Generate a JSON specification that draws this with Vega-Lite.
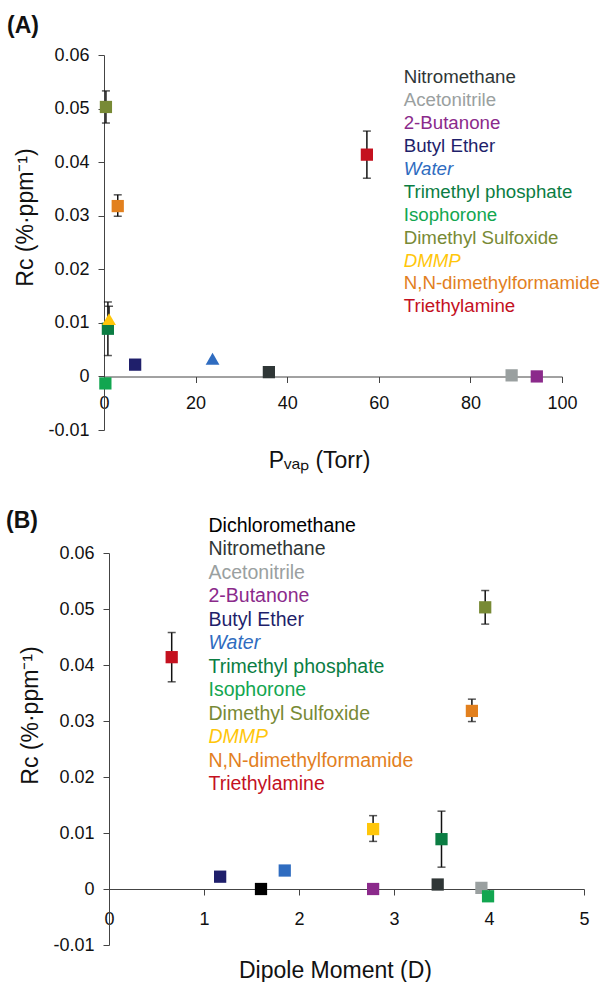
{
  "$schema": "https://vega.github.io/schema/vega-lite/v6.json",
  "padding": {"left": 5, "top": 15, "right": 0, "bottom": 0},
  "background": "white",
  "config": {
    "view": {"stroke": null},
    "font": "Liberation Sans",
    "axis": {"labelFont": "Liberation Sans", "labelFontSize": 18, "labelColor": "#111", "titleFont": "Liberation Sans", "titleFontSize": 23, "titleFontWeight": "normal", "titleColor": "#111", "domainColor": "#444", "tickColor": "#444", "tickSize": 6, "grid": false, "labelPadding": 9, "labelFlush": false, "labelOverlap": false},
    "title": {"font": "Liberation Sans", "fontSize": 23, "fontWeight": "bold", "anchor": "start", "color": "#111", "frame": "bounds"},
    "legend": {"labelFont": "Liberation Sans", "labelFontSize": 19, "labelLimit": 400, "symbolSize": 0, "symbolOpacity": 0, "symbolStrokeWidth": 0, "labelOffset": 0, "padding": 0, "title": null}
  },
  "data": {"values": [
    {"name": "Dichloromethane", "pvap": null, "dipole": 1.60, "rc": 0.0000, "lo": null, "hi": null},
    {"name": "Nitromethane", "pvap": 36.0, "dipole": 3.46, "rc": 0.0008, "lo": null, "hi": null},
    {"name": "Acetonitrile", "pvap": 89.0, "dipole": 3.92, "rc": 0.0002, "lo": null, "hi": null},
    {"name": "2-Butanone", "pvap": 94.5, "dipole": 2.78, "rc": 0.0000, "lo": null, "hi": null},
    {"name": "Butyl Ether", "pvap": 6.8, "dipole": 1.17, "rc": 0.0022, "lo": null, "hi": null},
    {"name": "Water", "pvap": 23.7, "dipole": 1.85, "rc": 0.0033, "lo": null, "hi": null},
    {"name": "Trimethyl phosphate", "pvap": 0.85, "dipole": 3.50, "rc": 0.0089, "lo": 0.0039, "hi": 0.0139},
    {"name": "Isophorone", "pvap": 0.3, "dipole": 3.99, "rc": -0.0013, "lo": null, "hi": null},
    {"name": "Dimethyl Sulfoxide", "pvap": 0.42, "dipole": 3.96, "rc": 0.0503, "lo": 0.0473, "hi": 0.0533},
    {"name": "DMMP", "pvap": 1.1, "dipole": 2.78, "rc": 0.0107, "lo": 0.0085, "hi": 0.0131},
    {"name": "N,N-dimethylformamide", "pvap": 3.0, "dipole": 3.82, "rc": 0.0318, "lo": 0.0299, "hi": 0.0339},
    {"name": "Triethylamine", "pvap": 57.4, "dipole": 0.66, "rc": 0.0414, "lo": 0.0370, "hi": 0.0458}
  ]},
  "resolve": {"legend": {"color": "independent"}},
  "columns": 1,
  "align": "none",
  "spacing": 37,
  "concat": [
    {
      "width": 458,
      "height": 375,
      "title": {"text": "(A)", "dx": -8, "offset": 8},
      "transform": [{"filter": "isValid(datum.pvap)"}],
      "layer": [
        {
          "transform": [{"filter": "isValid(datum.lo)"}],
          "mark": {"type": "errorbar", "ticks": true, "size": 8, "thickness": 1.5, "color": "#111"},
          "encoding": {
            "x": {"field": "pvap", "type": "quantitative", "scale": {"domain": [0, 100], "nice": false}, "axis": {"title": "Pᵥₐₚ (Torr)", "values": [0, 20, 40, 60, 80, 100], "offset": -53.5, "labelPadding": 12, "titlePadding": 37, "titleX": 215}},
            "y": {"field": "lo", "type": "quantitative", "scale": {"domain": [-0.01, 0.06], "nice": false}, "axis": {"title": "Rᴄ (%·ppm⁻¹)", "values": [-0.01, 0, 0.01, 0.02, 0.03, 0.04, 0.05, 0.06], "labelExpr": "datum.value === 0 ? '0' : replace(format(datum.value, '.2f'), '\u2212', '-')", "titlePadding": 10, "titleY": 162}},
            "y2": {"field": "hi"}
          }
        },
        {
          "mark": {"type": "point", "filled": true, "opacity": 1, "strokeWidth": 0},
          "encoding": {
            "x": {"field": "pvap", "type": "quantitative", "scale": {"domain": [0, 100], "nice": false}, "axis": {"title": "Pᵥₐₚ (Torr)", "values": [0, 20, 40, 60, 80, 100], "offset": -53.5, "labelPadding": 12, "titlePadding": 37, "titleX": 215}},
            "y": {"field": "rc", "type": "quantitative", "scale": {"domain": [-0.01, 0.06], "nice": false}, "axis": {"title": "Rᴄ (%·ppm⁻¹)", "values": [-0.01, 0, 0.01, 0.02, 0.03, 0.04, 0.05, 0.06], "labelExpr": "datum.value === 0 ? '0' : replace(format(datum.value, '.2f'), '\u2212', '-')", "titlePadding": 10, "titleY": 162}},
            "shape": {"condition": {"test": "datum.name === 'Water' || datum.name === 'DMMP'", "value": "triangle-up"}, "value": "square"},
            "size": {"condition": {"test": "datum.name === 'Water' || datum.name === 'DMMP'", "value": 190}, "value": 150},
            "color": {
              "field": "name", "type": "nominal",
              "scale": {
                "domain": ["Dichloromethane", "Nitromethane", "Acetonitrile", "2-Butanone", "Butyl Ether", "Water", "Trimethyl phosphate", "Isophorone", "Dimethyl Sulfoxide", "DMMP", "N,N-dimethylformamide", "Triethylamine"],
                "range": ["#000000", "#2f3636", "#9aa0a0", "#8b2a8b", "#1f1f6b", "#2f6cc0", "#0b7d43", "#12a650", "#788a35", "#ffc60a", "#e2801e", "#c4111f"]
              },
              "legend": {
                "orient": "none", "legendX": 281, "legendY": 13, "rowPadding": 2.9,
                "labelFontSize": 18.7,
                "values": ["Nitromethane", "Acetonitrile", "2-Butanone", "Butyl Ether", "Water", "Trimethyl phosphate", "Isophorone", "Dimethyl Sulfoxide", "DMMP", "N,N-dimethylformamide", "Triethylamine"],
                "encode": {"labels": {"update": {"fill": {"signal": "scale('color', datum.value)"}, "fontStyle": {"signal": "datum.value === 'Water' || datum.value === 'DMMP' ? 'italic' : 'normal'"}}}}
              }
            }
          }
        }
      ]
    },
    {
      "width": 480,
      "height": 392,
      "title": {"text": "(B)", "dx": -14, "offset": -17},
      "layer": [
        {
          "transform": [{"filter": "isValid(datum.lo)"}],
          "mark": {"type": "errorbar", "ticks": true, "size": 8, "thickness": 1.5, "color": "#111"},
          "encoding": {
            "x": {"field": "dipole", "type": "quantitative", "scale": {"domain": [0, 5], "nice": false, "range": [5, 480]}, "axis": {"title": "Dipole Moment (D)", "values": [0, 1, 2, 3, 4, 5], "offset": -56, "labelPadding": 15, "titlePadding": 31, "titleX": 231}},
            "y": {"field": "lo", "type": "quantitative", "scale": {"domain": [-0.01, 0.06], "nice": false}, "axis": {"title": "Rᴄ (%·ppm⁻¹)", "values": [-0.01, 0, 0.01, 0.02, 0.03, 0.04, 0.05, 0.06], "labelExpr": "datum.value === 0 ? '0' : replace(format(datum.value, '.2f'), '\u2212', '-')", "titlePadding": 10, "labelPadding": 9, "offset": -5, "titleY": 162}},
            "y2": {"field": "hi"}
          }
        },
        {
          "mark": {"type": "point", "filled": true, "size": 150, "opacity": 1, "strokeWidth": 0, "shape": "square"},
          "encoding": {
            "x": {"field": "dipole", "type": "quantitative", "scale": {"domain": [0, 5], "nice": false, "range": [5, 480]}, "axis": {"title": "Dipole Moment (D)", "values": [0, 1, 2, 3, 4, 5], "offset": -56, "labelPadding": 15, "titlePadding": 31, "titleX": 231}},
            "y": {"field": "rc", "type": "quantitative", "scale": {"domain": [-0.01, 0.06], "nice": false}, "axis": {"title": "Rᴄ (%·ppm⁻¹)", "values": [-0.01, 0, 0.01, 0.02, 0.03, 0.04, 0.05, 0.06], "labelExpr": "datum.value === 0 ? '0' : replace(format(datum.value, '.2f'), '\u2212', '-')", "titlePadding": 10, "labelPadding": 9, "offset": -5, "titleY": 162}},
            "color": {
              "field": "name", "type": "nominal",
              "scale": {
                "domain": ["Dichloromethane", "Nitromethane", "Acetonitrile", "2-Butanone", "Butyl Ether", "Water", "Trimethyl phosphate", "Isophorone", "Dimethyl Sulfoxide", "DMMP", "N,N-dimethylformamide", "Triethylamine"],
                "range": ["#000000", "#2f3636", "#9aa0a0", "#8b2a8b", "#1f1f6b", "#2f6cc0", "#0b7d43", "#12a650", "#788a35", "#ffc60a", "#e2801e", "#c4111f"]
              },
              "legend": {
                "orient": "none", "legendX": 85, "legendY": -37, "rowPadding": 2.5,
                "labelFontSize": 19.5,
                "encode": {"labels": {"update": {"fill": {"signal": "scale('color', datum.value)"}, "fontStyle": {"signal": "datum.value === 'Water' || datum.value === 'DMMP' ? 'italic' : 'normal'"}}}}
              }
            }
          }
        }
      ]
    }
  ]
}
